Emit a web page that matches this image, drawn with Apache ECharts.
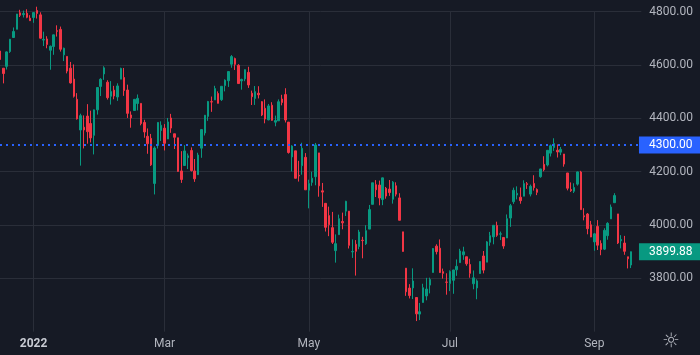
<!DOCTYPE html>
<html><head><meta charset="utf-8">
<script src="https://cdn.jsdelivr.net/npm/echarts@6/dist/echarts.min.js"></script>
<style>html,body{margin:0;padding:0;background:#161a25}#c{width:700px;height:355px}</style>
</head><body><div id="c"></div>
<script>
// ---- data (S&P 500 daily) ----
const dates = [
'2021-12-17','2021-12-20','2021-12-21','2021-12-22','2021-12-23','2021-12-27','2021-12-28','2021-12-29','2021-12-30','2021-12-31',
'2022-01-03','2022-01-04','2022-01-05','2022-01-06','2022-01-07','2022-01-10','2022-01-11','2022-01-12','2022-01-13','2022-01-14','2022-01-18','2022-01-19','2022-01-20','2022-01-21','2022-01-24','2022-01-25','2022-01-26','2022-01-27','2022-01-28','2022-01-31',
'2022-02-01','2022-02-02','2022-02-03','2022-02-04','2022-02-07','2022-02-08','2022-02-09','2022-02-10','2022-02-11','2022-02-14','2022-02-15','2022-02-16','2022-02-17','2022-02-18','2022-02-22','2022-02-23','2022-02-24','2022-02-25','2022-02-28',
'2022-03-01','2022-03-02','2022-03-03','2022-03-04','2022-03-07','2022-03-08','2022-03-09','2022-03-10','2022-03-11','2022-03-14','2022-03-15','2022-03-16','2022-03-17','2022-03-18','2022-03-21','2022-03-22','2022-03-23','2022-03-24','2022-03-25','2022-03-28','2022-03-29','2022-03-30','2022-03-31',
'2022-04-01','2022-04-04','2022-04-05','2022-04-06','2022-04-07','2022-04-08','2022-04-11','2022-04-12','2022-04-13','2022-04-14','2022-04-18','2022-04-19','2022-04-20','2022-04-21','2022-04-22','2022-04-25','2022-04-26','2022-04-27','2022-04-28','2022-04-29',
'2022-05-02','2022-05-03','2022-05-04','2022-05-05','2022-05-06','2022-05-09','2022-05-10','2022-05-11','2022-05-12','2022-05-13','2022-05-16','2022-05-17','2022-05-18','2022-05-19','2022-05-20','2022-05-23','2022-05-24','2022-05-25','2022-05-26','2022-05-27','2022-05-31',
'2022-06-01','2022-06-02','2022-06-03','2022-06-06','2022-06-07','2022-06-08','2022-06-09','2022-06-10','2022-06-13','2022-06-14','2022-06-15','2022-06-16','2022-06-17','2022-06-21','2022-06-22','2022-06-23','2022-06-24','2022-06-27','2022-06-28','2022-06-29','2022-06-30',
'2022-07-01','2022-07-05','2022-07-06','2022-07-07','2022-07-08','2022-07-11','2022-07-12','2022-07-13','2022-07-14','2022-07-15','2022-07-18','2022-07-19','2022-07-20','2022-07-21','2022-07-22','2022-07-25','2022-07-26','2022-07-27','2022-07-28','2022-07-29',
'2022-08-01','2022-08-02','2022-08-03','2022-08-04','2022-08-05','2022-08-08','2022-08-09','2022-08-10','2022-08-11','2022-08-12','2022-08-15','2022-08-16','2022-08-17','2022-08-18','2022-08-19','2022-08-22','2022-08-23','2022-08-24','2022-08-25','2022-08-26','2022-08-29','2022-08-30','2022-08-31',
'2022-09-01','2022-09-02','2022-09-06','2022-09-07','2022-09-08','2022-09-09','2022-09-12','2022-09-13','2022-09-14','2022-09-15','2022-09-16','2022-09-19'
];
const open = [
4652.50,4587.90,4594.96,4650.36,4703.10,4733.99,4795.49,4788.64,4794.23,4775.21,
4778.14,4804.51,4787.99,4693.39,4697.66,4655.34,4669.14,4728.59,4733.56,4637.99,4632.24,4588.03,4547.35,4471.38,4356.32,4366.64,4408.43,4380.58,4336.19,4431.79,
4519.57,4566.39,4535.41,4482.79,4505.75,4480.02,4547.00,4553.24,4506.27,4412.61,4429.28,4455.75,4456.06,4384.57,4332.74,4324.93,4155.77,4298.38,4354.17,
4363.14,4322.56,4401.31,4342.12,4327.01,4202.66,4223.10,4252.55,4279.50,4202.75,4188.82,4288.14,4345.11,4407.34,4462.40,4469.10,4493.10,4469.98,4522.91,4541.09,4602.86,4624.20,4599.02,
4540.32,4547.97,4572.45,4494.17,4474.65,4494.15,4462.64,4437.59,4394.30,4449.12,4385.63,4390.63,4472.26,4489.17,4385.83,4255.34,4278.14,4186.52,4222.58,4253.75,
4130.61,4159.78,4181.18,4270.43,4128.17,4081.27,4035.18,3990.08,3903.95,3963.90,4013.02,4052.00,4051.98,3899.00,3927.76,3919.42,3942.94,3929.59,3984.60,4077.43,4151.09,
4149.78,4095.41,4137.57,4134.72,4096.47,4147.12,4101.65,3974.39,3838.15,3763.52,3764.05,3728.18,3665.90,3709.33,3733.89,3774.71,3821.75,3920.76,3913.00,3825.09,3785.99,
3781.00,3792.61,3831.98,3858.85,3888.26,3880.94,3851.95,3779.67,3763.99,3818.00,3883.79,3860.73,3935.32,3955.47,3998.43,3965.72,3953.22,3951.43,4026.13,4087.33,
4112.38,4104.21,4107.96,4154.85,4115.87,4155.93,4133.11,4181.02,4227.40,4225.02,4269.37,4290.46,4280.40,4273.13,4266.31,4195.08,4133.09,4126.55,4153.26,4198.74,4034.58,4041.25,4000.67,
3936.73,3994.66,3930.89,3909.43,3959.94,4022.94,4083.67,4041.56,3940.73,3932.41,3880.95,3849.91
];
const high = [
4666.70,4587.90,4651.14,4697.67,4740.74,4791.49,4807.02,4804.06,4808.93,4786.83,
4796.64,4818.62,4797.70,4725.01,4707.95,4673.02,4714.13,4748.83,4744.13,4665.13,4632.24,4611.55,4602.11,4494.52,4417.35,4411.01,4453.23,4428.74,4432.72,4516.89,
4550.49,4595.31,4542.88,4539.66,4521.86,4531.32,4590.03,4588.92,4526.33,4426.22,4472.77,4489.55,4456.06,4394.60,4362.12,4341.51,4294.73,4385.34,4388.84,
4378.45,4401.48,4416.78,4342.12,4327.01,4276.94,4299.40,4268.28,4291.01,4247.57,4271.05,4358.90,4412.67,4465.40,4481.75,4522.00,4501.07,4520.58,4546.03,4575.65,4637.30,4627.77,4603.07,
4548.70,4583.50,4593.45,4503.94,4521.16,4520.41,4464.35,4471.00,4453.92,4460.46,4410.31,4471.03,4488.29,4512.94,4385.83,4299.02,4278.14,4240.71,4308.45,4269.68,
4169.81,4200.10,4307.66,4270.43,4157.69,4081.27,4068.82,4049.09,3964.80,4038.88,4046.46,4090.72,4051.98,3945.96,3943.42,3981.88,3955.68,3999.33,4075.14,4158.49,4168.34,
4166.54,4177.51,4142.67,4168.78,4164.86,4160.14,4119.10,3974.39,3838.15,3778.18,3837.56,3728.18,3707.71,3779.65,3801.79,3802.58,3913.65,3927.72,3945.86,3836.50,3818.99,
3829.82,3832.19,3870.91,3910.63,3918.50,3880.94,3873.41,3829.44,3796.41,3863.62,3902.44,3939.81,3974.13,3999.29,4012.44,3975.30,3953.22,4039.56,4078.95,4140.15,
4144.95,4140.47,4167.66,4161.29,4151.58,4186.62,4137.30,4211.03,4257.91,4280.47,4301.79,4325.28,4302.18,4292.53,4266.31,4195.08,4159.77,4156.56,4200.54,4203.04,4062.99,4044.98,4015.37,
3970.23,4018.43,3942.55,3987.89,4010.50,4076.81,4119.28,4041.56,3961.94,3959.14,3880.95,3900.45
];
const low = [
4600.22,4531.10,4583.16,4645.53,4703.10,4733.99,4780.04,4778.08,4775.33,4765.75,
4758.17,4774.27,4699.44,4671.26,4662.74,4582.24,4638.27,4706.71,4650.29,4614.75,4568.70,4530.20,4477.95,4395.34,4222.62,4287.11,4304.80,4309.50,4264.71,4414.02,
4483.53,4544.32,4470.39,4451.50,4471.47,4465.40,4547.00,4484.31,4401.41,4364.84,4429.28,4429.68,4373.81,4327.22,4267.11,4221.51,4114.65,4286.83,4315.12,
4279.54,4322.56,4345.56,4284.98,4199.85,4157.87,4223.10,4209.80,4200.49,4161.72,4187.90,4251.99,4335.65,4390.57,4424.30,4469.10,4455.81,4465.17,4501.07,4517.69,4589.66,4581.32,4530.41,
4507.57,4539.21,4514.17,4450.04,4450.30,4474.60,4408.38,4381.34,4392.70,4390.77,4370.30,4390.63,4448.76,4384.47,4267.62,4200.82,4175.04,4162.90,4188.63,4131.78,
4062.51,4147.08,4148.91,4106.01,4067.91,3975.48,3958.17,3928.82,3858.87,3963.90,3983.99,4033.93,3911.91,3876.58,3810.32,3909.04,3875.13,3925.03,3984.60,4077.43,4104.88,
4073.85,4074.37,4098.67,4109.18,4080.19,4107.20,4017.17,3900.16,3734.30,3724.59,3722.30,3639.77,3643.41,3709.33,3717.69,3743.52,3821.75,3889.66,3820.14,3799.02,3738.67,
3752.10,3742.06,3809.37,3858.85,3869.34,3847.22,3802.36,3759.07,3721.56,3817.18,3818.63,3860.73,3922.03,3927.64,3955.77,3943.46,3910.74,3951.43,3992.97,4079.22,
4096.02,4079.81,4107.96,4135.42,4107.31,4128.97,4112.09,4177.26,4201.41,4219.78,4256.90,4277.77,4253.08,4261.98,4218.70,4129.86,4124.03,4119.97,4147.59,4057.66,4017.42,3965.21,3954.53,
3903.65,3906.21,3886.75,3906.03,3944.81,4022.94,4083.67,3928.59,3912.28,3888.28,3837.08,3838.50
];
const close = [
4620.64,4568.02,4649.23,4696.56,4725.79,4791.19,4786.35,4793.06,4778.73,4766.18,
4796.56,4793.54,4700.58,4696.05,4677.03,4670.29,4713.07,4726.35,4659.03,4662.85,4577.11,4532.76,4482.73,4397.94,4410.13,4356.45,4349.93,4326.51,4431.85,4515.55,
4546.54,4589.38,4477.44,4500.53,4483.87,4521.54,4587.18,4504.08,4418.64,4401.67,4471.07,4475.01,4380.26,4348.87,4304.76,4225.50,4288.70,4384.65,4373.94,
4306.26,4386.54,4363.49,4328.87,4201.09,4170.70,4277.88,4259.52,4204.31,4173.11,4262.45,4357.86,4411.67,4463.12,4461.18,4511.61,4456.24,4520.16,4543.06,4575.52,4631.60,4602.45,4530.41,
4545.86,4582.64,4525.12,4481.15,4500.21,4488.28,4412.53,4397.45,4446.59,4392.59,4391.69,4462.21,4459.45,4393.66,4271.78,4296.12,4175.20,4183.96,4287.50,4131.93,
4155.38,4175.48,4300.17,4146.87,4123.34,3991.24,4001.05,3935.18,3930.08,4023.89,4008.01,4088.85,3923.68,3900.79,3901.36,3973.75,3941.48,3978.73,4057.84,4158.24,4132.15,
4101.23,4176.82,4108.54,4121.43,4160.68,4115.77,4017.82,3900.86,3749.63,3735.48,3789.99,3666.77,3674.84,3764.79,3759.89,3795.73,3911.74,3900.11,3821.55,3818.83,3785.38,
3825.33,3831.39,3845.08,3902.62,3899.38,3854.43,3818.80,3801.78,3790.38,3863.16,3830.85,3936.69,3959.90,3998.95,3961.63,3966.84,3921.05,4023.61,4072.43,4130.29,
4118.63,4091.19,4155.17,4151.94,4145.19,4140.06,4122.47,4210.24,4207.27,4280.15,4297.14,4305.20,4274.04,4283.74,4228.48,4137.99,4128.73,4140.77,4199.12,4057.66,4030.61,3986.16,3955.00,
3966.85,3924.26,3908.19,3979.87,4006.18,4067.36,4110.41,3932.69,3946.01,3901.35,3873.33,3899.88
];
const tickDates  = ['2022-01-03','2022-03-01','2022-05-02','2022-07-01','2022-09-01'];
const tickLabels = ['2022','Mar','May','Jul','Sep'];
const priceLine = 4300;
const yMin = 3600, yMax = 4800, yStep = 200;

// ---- styles / layout ----
const BG = '#161a25', GRID = '#2a2e39', TXT = '#b2b5be';
const UP = '#089981', DOWN = '#f23645', BLUE = '#2962ff';
const PAD = 3;               // empty slots to the right of the last bar
const STEP = 3.359;          // px per bar
const cats = dates.concat(Array.from({length: PAD}, (_, i) => 'pad' + i));
const ohlc = dates.map((d, i) => [open[i], close[i], low[i], high[i]]);
for (let i = 0; i < PAD; i++) ohlc.push('-');
const lastClose = close[close.length - 1];
const isTick = (i, v) => tickDates.indexOf(v) >= 0;
const boxLabel = bg => ({
  show: true, position: 'end', distance: -2.3, formatter: p => Number(p.value).toFixed(2),
  color: '#ffffff', fontSize: 12, backgroundColor: bg, padding: [3, 9, 2, 10], lineHeight: 12
});

const chart = echarts.init(document.getElementById('c'));
chart.setOption({
  animation: false,
  backgroundColor: BG,
  textStyle: { fontFamily: 'Roboto, "Liberation Sans", sans-serif' },
  grid: { left: -0.3, top: 11.67, width: (cats.length - 1) * STEP, height: 320 },
  xAxis: {
    type: 'category', data: cats, boundaryGap: false,
    axisLine: { show: false }, axisTick: { show: false },
    axisLabel: {
      interval: isTick, color: TXT, fontSize: 12, margin: 6,
      formatter: v => { const k = tickDates.indexOf(v); return k === 0 ? '{y|' + tickLabels[k] + '}' : (k > 0 ? tickLabels[k] : ''); },
      rich: { y: { fontWeight: 'bold', color: '#c8cbd3', fontSize: 12 } }
    },
    splitLine: { show: true, interval: isTick, lineStyle: { color: GRID, width: 1 } }
  },
  yAxis: {
    type: 'value', position: 'right', min: yMin, max: yMax, interval: yStep,
    axisLine: { show: false }, axisTick: { show: false },
    axisLabel: { color: TXT, fontSize: 12, margin: 8, showMinLabel: false, formatter: v => v.toFixed(2) },
    splitLine: { show: true, showMinLine: false, lineStyle: { color: GRID, width: 1 } }
  },
  series: [{
    type: 'candlestick', data: ohlc, barWidth: 2, clip: false,
    itemStyle: { color: UP, color0: DOWN, borderColor: UP, borderColor0: DOWN, borderWidth: 1 },
    markLine: {
      symbol: 'none', silent: true, animation: false,
      data: [
        { yAxis: priceLine, lineStyle: { color: BLUE, type: [2, 4], width: 2 }, label: boxLabel(BLUE) },
        { yAxis: lastClose, lineStyle: { color: 'rgba(0,0,0,0)', width: 1 }, label: boxLabel(UP) }
      ]
    }
  }],
  graphic: [{ type: 'text', left: 662, top: 332, silent: true,
              style: { text: '\u263C', fill: TXT, font: '20px "DejaVu Sans"' } }]
});
</script></body></html>
